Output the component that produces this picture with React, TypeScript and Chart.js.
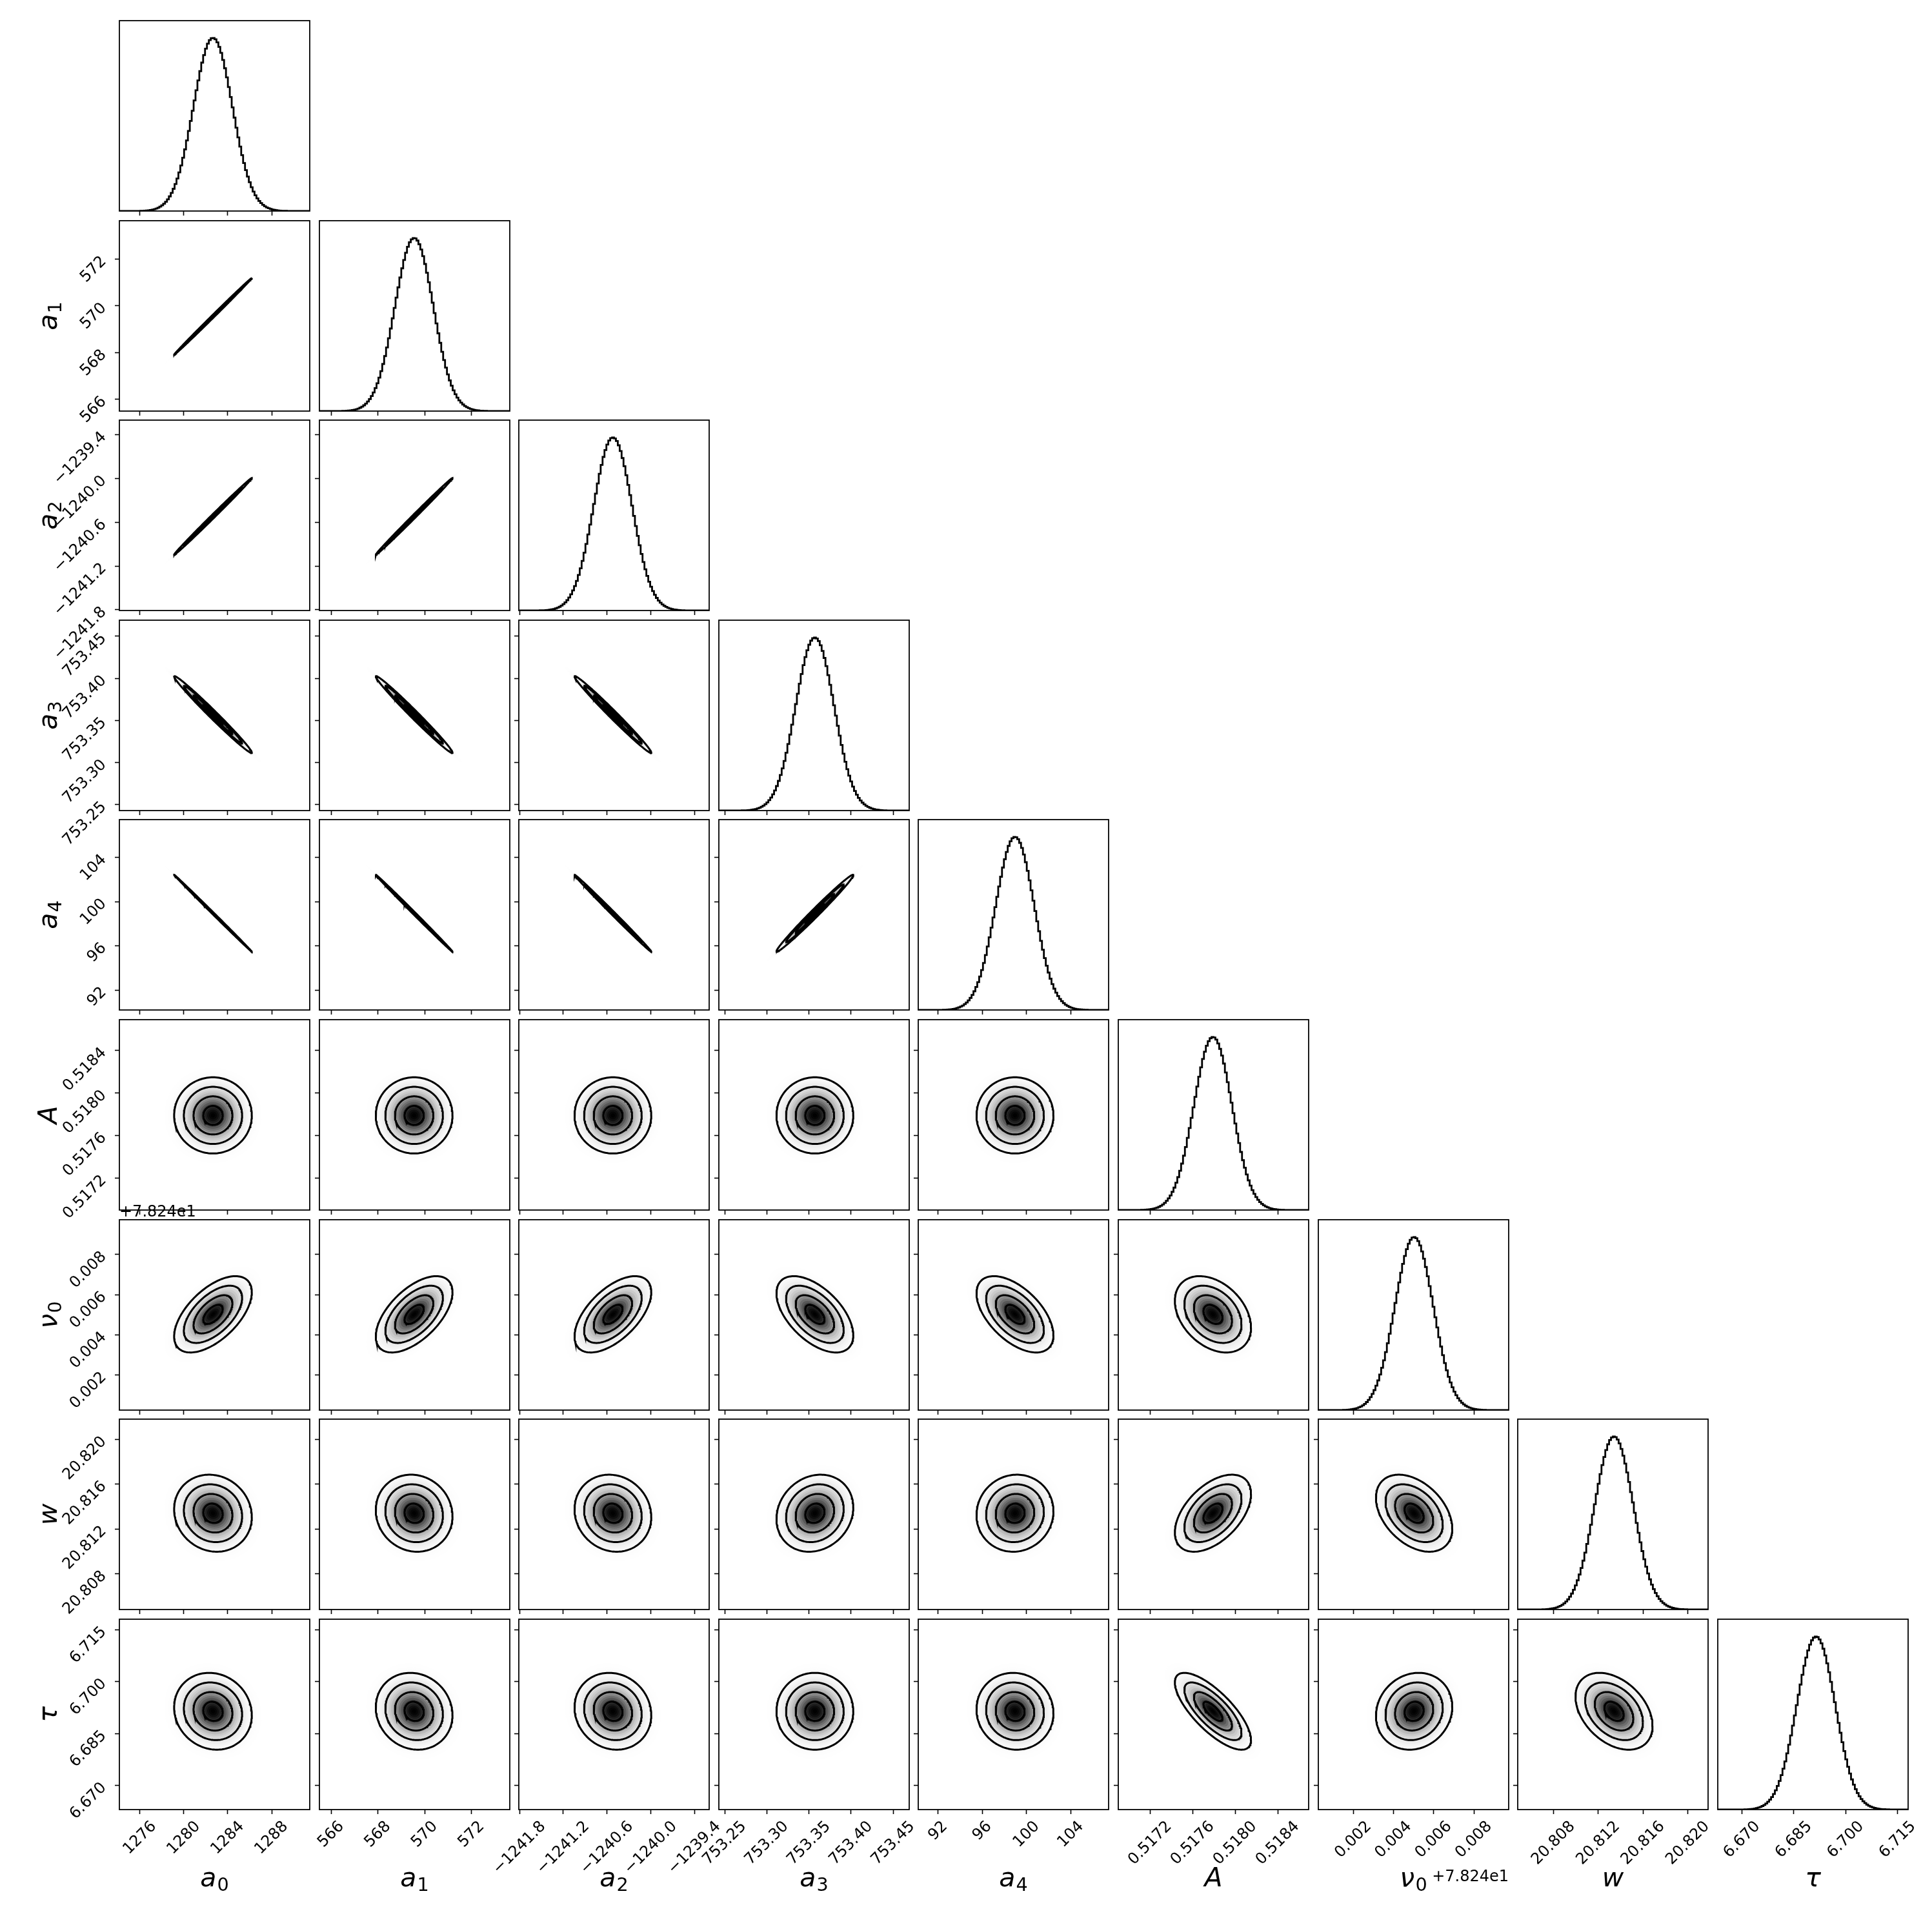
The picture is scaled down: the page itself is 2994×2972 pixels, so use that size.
import React, { useEffect, useRef } from "react";
import { Chart, registerables } from "chart.js";

Chart.register(...registerables);

// ---------------- data ----------------
const PARAM_SYMBOLS = ["a", "a", "a", "a", "a", "A", "\u03bd", "w", "\u03c4"];
const PARAM_SUBSCRIPTS = ["0", "1", "2", "3", "4", "", "0", "", ""];
// posterior means and standard deviations
const PARAM_MEANS = [1282.65, 569.55, -1240.52, 753.357, 98.95, 0.51779, 0.00502, 20.8134, 6.6914];
const PARAM_SIGMAS = [1.77, 0.82, 0.263, 0.0228, 1.74, 0.000179, 0.00095, 0.00172, 0.00555];
// axis limits per parameter
const AXIS_MIN = [1274.12, 565.5, -1241.81, 753.243, 90.2, 0.5169, 0.00025, 20.8048, 6.663];
const AXIS_MAX = [1291.47, 573.64, -1239.2, 753.469, 107.42, 0.51869, 0.00973, 20.8218, 6.718];
const TICK_VALUES = [
  [1276, 1280, 1284, 1288],
  [566, 568, 570, 572],
  [-1241.8, -1241.2, -1240.6, -1240.0, -1239.4],
  [753.25, 753.3, 753.35, 753.4, 753.45],
  [92, 96, 100, 104],
  [0.5172, 0.5176, 0.518, 0.5184],
  [0.002, 0.004, 0.006, 0.008],
  [20.808, 20.812, 20.816, 20.82],
  [6.67, 6.685, 6.7, 6.715],
];
const TICK_LABELS = [
  ["1276", "1280", "1284", "1288"],
  ["566", "568", "570", "572"],
  ["\u22121241.8", "\u22121241.2", "\u22121240.6", "\u22121240.0", "\u22121239.4"],
  ["753.25", "753.30", "753.35", "753.40", "753.45"],
  ["92", "96", "100", "104"],
  ["0.5172", "0.5176", "0.5180", "0.5184"],
  ["0.002", "0.004", "0.006", "0.008"],
  ["20.808", "20.812", "20.816", "20.820"],
  ["6.670", "6.685", "6.700", "6.715"],
];
const OFFSET_TEXTS = ["", "", "", "", "", "", "+7.824e1", "", ""];
// correlation of row parameter with each earlier parameter
const CORRELATIONS = [
  [],
  [0.999],
  [0.998, 0.998],
  [-0.99, -0.99, -0.99],
  [-0.9995, -0.999, -0.998, 0.99],
  [0.0, 0.0, 0.0, 0.0, 0.0],
  [0.58, 0.58, 0.58, -0.55, -0.55, -0.35],
  [-0.1, -0.08, -0.1, 0.15, 0.05, 0.5, -0.4],
  [-0.1, -0.1, -0.1, 0.0, -0.05, -0.75, 0.12, -0.38],
];
const CONTOUR_SIGMAS = [0.5, 1, 1.5, 2];
const HIST_BIN_COUNT = 100;

// ---------------- layout / style ----------------
const N = 9;
const FIG_LEFT = 185;
const FIG_TOP = 32;
const PITCH = 309.6;
const PANEL = 295;
const PAD_L = 180;
const PAD_R = 20;
const PAD_T = 40;
const PAD_B = 140;
const TICK_LEN = 7;
const TICK_PAD = 7;
const TICK_FONT = 24;
const LABEL_FONT = 41;
const FONT_FAMILY = '"DejaVu Sans", sans-serif';

function histogramPoints(k: number) {
  const lo = AXIS_MIN[k];
  const hi = AXIS_MAX[k];
  const step = (hi - lo) / HIST_BIN_COUNT;
  const mu = PARAM_MEANS[k];
  const sd = PARAM_SIGMAS[k];
  const heights: number[] = [];
  for (let b = 0; b < HIST_BIN_COUNT; b++) {
    const c = lo + (b + 0.5) * step;
    const z = (c - mu) / sd;
    heights.push(Math.exp(-0.5 * z * z));
  }
  const pts: { x: number; y: number }[] = [{ x: lo, y: 0 }];
  for (let b = 0; b < HIST_BIN_COUNT; b++) pts.push({ x: lo + b * step, y: heights[b] });
  pts.push({ x: hi, y: heights[HIST_BIN_COUNT - 1] });
  pts.push({ x: hi, y: 0 });
  return { pts, peak: Math.max(...heights) };
}

function ellipsePoints(row: number, col: number, radius: number) {
  const r = CORRELATIONS[row][col];
  const mx = PARAM_MEANS[col];
  const my = PARAM_MEANS[row];
  const sx = PARAM_SIGMAS[col];
  const sy = PARAM_SIGMAS[row];
  const s = Math.sqrt(1 - r * r);
  const n = 160;
  const pts: { x: number; y: number }[] = [];
  for (let t = 0; t <= n; t++) {
    const th = (2 * Math.PI * t) / n;
    const c = Math.cos(th);
    const sn = Math.sin(th);
    pts.push({ x: mx + radius * sx * c, y: my + radius * sy * (r * c + s * sn) });
  }
  return pts;
}

function grayAt(r: number) {
  const v = Math.round(255 * (1 - Math.exp(-r * r)));
  return `rgb(${v},${v},${v})`;
}

function drawMathLabel(ctx: CanvasRenderingContext2D, sym: string, sub: string, size: number) {
  ctx.font = `italic ${size}px ${FONT_FAMILY}`;
  const wb = ctx.measureText(sym).width;
  const subSize = size * 0.7;
  ctx.font = `${subSize}px ${FONT_FAMILY}`;
  const ws = sub ? ctx.measureText(sub).width : 0;
  const gap = sub ? size * 0.03 : 0;
  const total = wb + gap + ws;
  const x0 = -total / 2;
  ctx.textAlign = "left";
  ctx.textBaseline = "alphabetic";
  ctx.font = `italic ${size}px ${FONT_FAMILY}`;
  ctx.fillText(sym, x0, 0);
  if (sub) {
    ctx.font = `${subSize}px ${FONT_FAMILY}`;
    ctx.fillText(sub, x0 + wb + gap, size * 0.16);
  }
}

const cornerPlugin = {
  id: "cornerPanel",
  beforeDatasetsDraw(chart: any) {
    const ctx = chart.ctx as CanvasRenderingContext2D;
    const a = chart.chartArea;
    ctx.save();
    ctx.beginPath();
    ctx.rect(a.left, a.top, a.right - a.left, a.bottom - a.top);
    ctx.clip();
    chart.data.datasets.forEach((ds: any, idx: number) => {
      if (!ds.bandColor) return;
      const pts = chart.getDatasetMeta(idx).data;
      ctx.beginPath();
      pts.forEach((p: any, k: number) => (k ? ctx.lineTo(p.x, p.y) : ctx.moveTo(p.x, p.y)));
      ctx.closePath();
      ctx.fillStyle = ds.bandColor;
      ctx.fill();
    });
    ctx.restore();
  },
  afterDraw(chart: any, _args: any, opts: any) {
    const row = opts.row as number;
    const col = opts.col as number;
    const ctx = chart.ctx as CanvasRenderingContext2D;
    const a = chart.chartArea;
    const xs = chart.scales.x;
    const ys = chart.scales.y;
    ctx.save();
    ctx.strokeStyle = "#000";
    ctx.lineWidth = 1.8;
    ctx.strokeRect(a.left, a.top, a.right - a.left, a.bottom - a.top);
    ctx.fillStyle = "#000";

    if (row === N - 1) {
      ctx.font = `${TICK_FONT}px ${FONT_FAMILY}`;
      const asc = 0.76 * TICK_FONT;
      const desc = 0.24 * TICK_FONT;
      TICK_VALUES[col].forEach((v, k) => {
        const s = TICK_LABELS[col][k];
        const px = xs.getPixelForValue(v);
        const w = ctx.measureText(s).width;
        const half = (w + asc + desc) / (2 * Math.SQRT2);
        ctx.save();
        ctx.translate(px, a.bottom + TICK_LEN + TICK_PAD + half);
        ctx.rotate(-Math.PI / 4);
        ctx.textAlign = "center";
        ctx.textBaseline = "alphabetic";
        ctx.fillText(s, 0, (asc - desc) / 2);
        ctx.restore();
      });
      ctx.save();
      ctx.translate((a.left + a.right) / 2, a.bottom + 119);
      drawMathLabel(ctx, PARAM_SYMBOLS[col], PARAM_SUBSCRIPTS[col], LABEL_FONT);
      ctx.restore();
      if (OFFSET_TEXTS[col]) {
        ctx.font = `${TICK_FONT}px ${FONT_FAMILY}`;
        ctx.textAlign = "right";
        ctx.textBaseline = "alphabetic";
        ctx.fillText(OFFSET_TEXTS[col], a.right, a.bottom + 111);
      }
    }

    if (col === 0 && row > 0) {
      ctx.font = `${TICK_FONT}px ${FONT_FAMILY}`;
      TICK_VALUES[row].forEach((v, k) => {
        const s = TICK_LABELS[row][k];
        const py = ys.getPixelForValue(v);
        ctx.save();
        ctx.translate(a.left - TICK_LEN - TICK_PAD - 0.41 * TICK_FONT, py);
        ctx.rotate(-Math.PI / 4);
        ctx.textAlign = "right";
        ctx.textBaseline = "middle";
        ctx.fillText(s, 0, 0);
        ctx.restore();
      });
      ctx.save();
      ctx.translate(a.left - 97, (a.top + a.bottom) / 2);
      ctx.rotate(-Math.PI / 2);
      drawMathLabel(ctx, PARAM_SYMBOLS[row], PARAM_SUBSCRIPTS[row], LABEL_FONT);
      ctx.restore();
      if (OFFSET_TEXTS[row]) {
        ctx.font = `${TICK_FONT}px ${FONT_FAMILY}`;
        ctx.textAlign = "left";
        ctx.textBaseline = "alphabetic";
        ctx.fillText(OFFSET_TEXTS[row], a.left, a.top - 5);
      }
    }
    ctx.restore();
  },
};

function buildConfig(row: number, col: number): any {
  const diag = row === col;
  const datasets: any[] = [];
  let yMin = AXIS_MIN[row];
  let yMax = AXIS_MAX[row];
  if (diag) {
    const h = histogramPoints(col);
    yMin = 0;
    yMax = 1.1 * h.peak;
    datasets.push({
      data: h.pts,
      showLine: true,
      stepped: true,
      borderColor: "#000",
      borderWidth: 2.8,
      pointRadius: 0,
      fill: false,
    });
  } else {
    for (let k = 26; k >= 1; k--) {
      const rad = k / 10;
      datasets.push({
        data: ellipsePoints(row, col, rad),
        showLine: false,
        pointRadius: 0,
        bandColor: grayAt(rad - 0.05),
      });
    }
    CONTOUR_SIGMAS.forEach((lv) => {
      datasets.push({
        data: ellipsePoints(row, col, lv),
        showLine: true,
        borderColor: "#000",
        borderWidth: 3,
        pointRadius: 0,
        fill: false,
      });
    });
  }
  const gridOpts = {
    display: true,
    drawOnChartArea: false,
    drawTicks: true,
    tickLength: TICK_LEN,
    tickWidth: 1.6,
    tickColor: "#000",
    color: "#000",
  };
  return {
    type: "scatter",
    data: { datasets },
    plugins: [cornerPlugin],
    options: {
      animation: false,
      responsive: false,
      maintainAspectRatio: false,
      events: [],
      layout: { padding: { left: 0, right: PAD_R, top: PAD_T, bottom: 0 } },
      plugins: {
        legend: { display: false },
        tooltip: { enabled: false },
        cornerPanel: { row, col },
      },
      scales: {
        x: {
          type: "linear",
          position: "bottom",
          min: AXIS_MIN[col],
          max: AXIS_MAX[col],
          bounds: "data",
          afterFit: (s: any) => {
            s.height = PAD_B;
          },
          afterBuildTicks: (s: any) => {
            s.ticks = TICK_VALUES[col].map((v) => ({ value: v }));
          },
          ticks: { display: false },
          grid: gridOpts,
          border: { display: false },
        },
        y: {
          type: "linear",
          position: "left",
          min: yMin,
          max: yMax,
          bounds: "data",
          afterFit: (s: any) => {
            s.width = PAD_L;
          },
          afterBuildTicks: (s: any) => {
            s.ticks = diag ? [] : TICK_VALUES[row].map((v) => ({ value: v }));
          },
          ticks: { display: false },
          grid: { ...gridOpts, display: !diag },
          border: { display: false },
        },
      },
    },
  };
}

function Panel({ row, col }: { row: number; col: number }) {
  const ref = useRef<HTMLCanvasElement>(null);
  useEffect(() => {
    const chart = new Chart(ref.current as HTMLCanvasElement, buildConfig(row, col));
    return () => chart.destroy();
  }, [row, col]);
  const w = PAD_L + PANEL + PAD_R;
  const h = PAD_T + PANEL + PAD_B;
  const left = Math.round(FIG_LEFT + col * PITCH) - PAD_L;
  const top = Math.round(FIG_TOP + row * PITCH) - PAD_T;
  return (
    <canvas
      ref={ref}
      width={w}
      height={h}
      style={{ position: "absolute", left, top, width: w, height: h }}
    />
  );
}

export default function App() {
  const panels: React.ReactElement[] = [];
  for (let row = 0; row < N; row++) {
    for (let col = 0; col <= row; col++) {
      panels.push(<Panel key={`${row}-${col}`} row={row} col={col} />);
    }
  }
  return (
    <div
      style={{
        position: "absolute",
        left: 0,
        top: 0,
        width: 2994,
        height: 2972,
        background: "#fff",
        overflow: "hidden",
      }}
    >
      {panels}
    </div>
  );
}
